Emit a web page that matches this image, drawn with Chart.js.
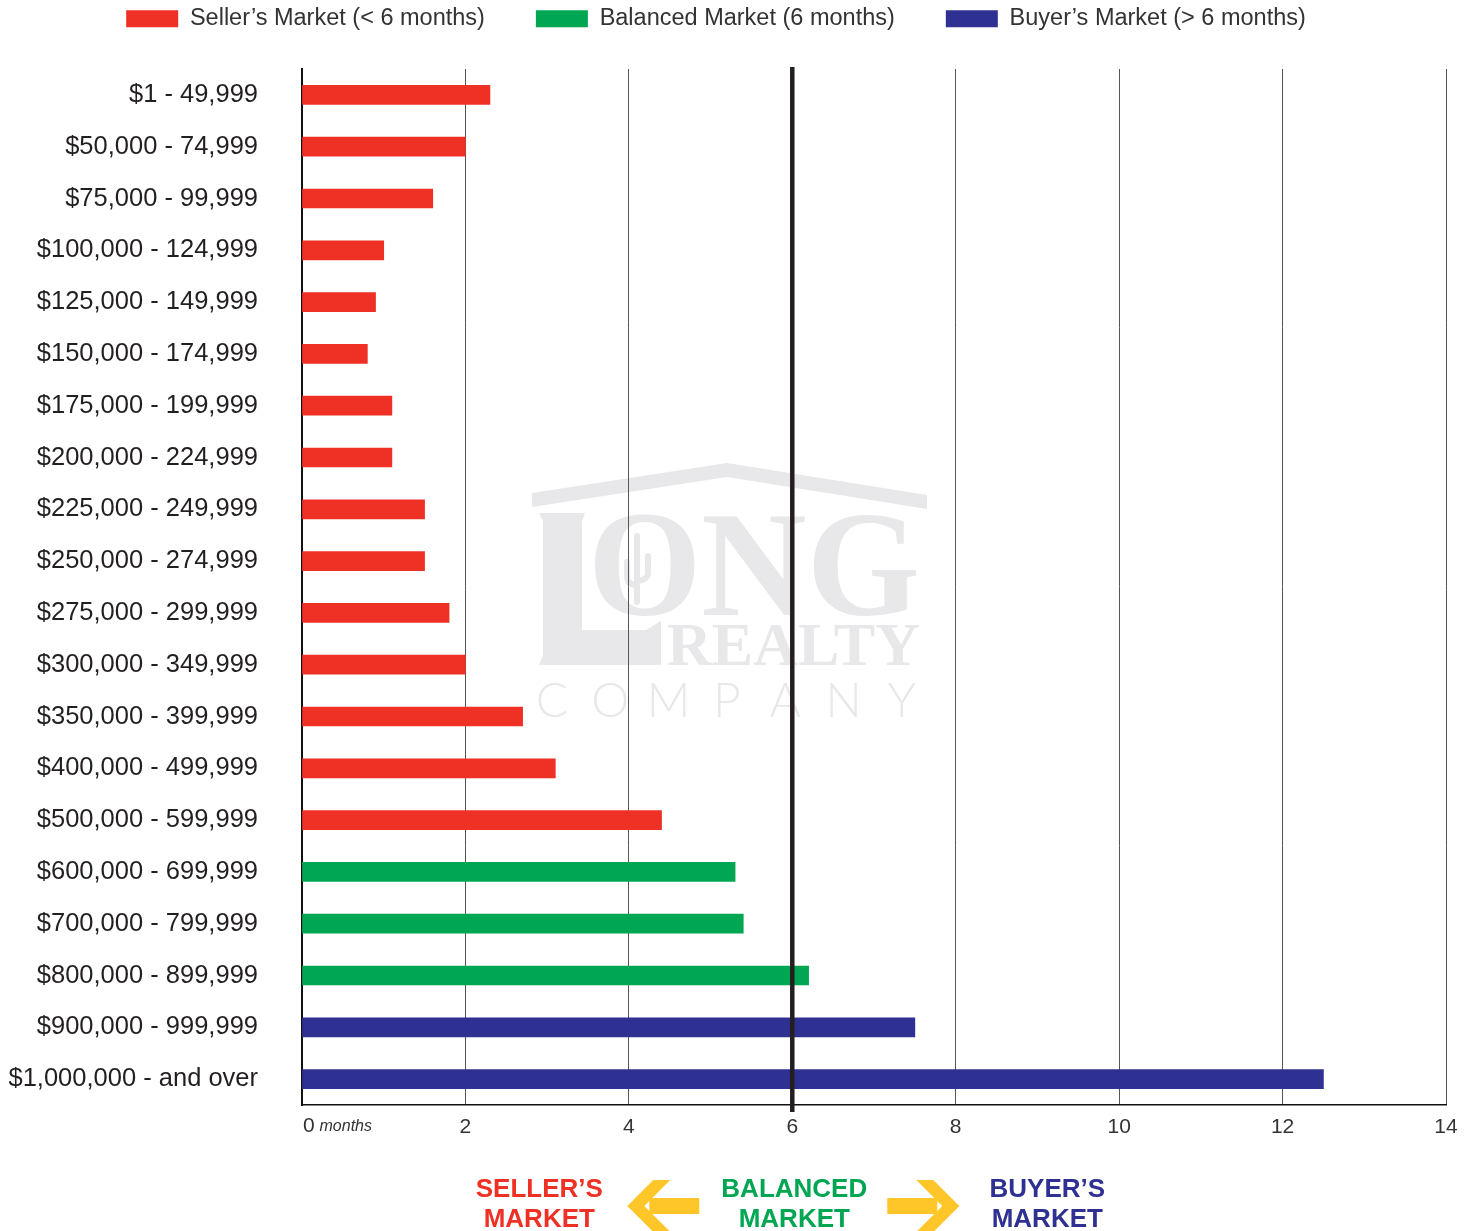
<!DOCTYPE html>
<html>
<head>
<meta charset="utf-8">
<script src="https://cdn.jsdelivr.net/npm/chart.js@4"></script>
<style>
html, body { margin: 0; padding: 0; background: #fff; }
</style>
</head>
<body>
<canvas id="grafica" width="1472" height="1231"></canvas>
<script>
// price ranges, top to bottom
const ranges = [
  '$1 - 49,999', '$50,000 - 74,999', '$75,000 - 99,999', '$100,000 - 124,999',
  '$125,000 - 149,999', '$150,000 - 174,999', '$175,000 - 199,999', '$200,000 - 224,999',
  '$225,000 - 249,999', '$250,000 - 274,999', '$275,000 - 299,999', '$300,000 - 349,999',
  '$350,000 - 399,999', '$400,000 - 499,999', '$500,000 - 599,999', '$600,000 - 699,999',
  '$700,000 - 799,999', '$800,000 - 899,999', '$900,000 - 999,999', '$1,000,000 - and over'
];
// months of inventory, split by market type
const sellers = [2.3, 2.0, 1.6, 1.0, 0.9, 0.8, 1.1, 1.1, 1.5, 1.5, 1.8, 2.0, 2.7, 3.1, 4.4, null, null, null, null, null];
const balanced = [null, null, null, null, null, null, null, null, null, null, null, null, null, null, null, 5.3, 5.4, 6.2, null, null];
const buyers = [null, null, null, null, null, null, null, null, null, null, null, null, null, null, null, null, null, null, 7.5, 12.5];
const xTicks = [0, 2, 4, 6, 8, 10, 12, 14];
const balancePoint = 6;

const RED = '#ee3124';
const GREEN = '#00a651';
const BLUE = '#2e3192';
const YELLOW = '#ffc629';
const LOGO = '#e8e8ea';

function drawLogo(c) {
  c.fillStyle = LOGO;
  // roof
  c.beginPath();
  c.moveTo(532, 493); c.lineTo(727, 463); c.lineTo(927, 495);
  c.lineTo(927, 509); c.lineTo(727, 477); c.lineTo(532, 507);
  c.closePath(); c.fill();
  // big L
  c.beginPath();
  c.moveTo(539, 513); c.lineTo(585, 513); c.lineTo(582, 521);
  c.lineTo(582, 630); c.lineTo(646, 630); c.lineTo(661, 621);
  c.lineTo(661, 665); c.lineTo(539, 665); c.lineTo(543, 655);
  c.lineTo(543, 521); c.closePath(); c.fill();
  // ONG
  c.textBaseline = 'alphabetic';
  c.textAlign = 'left';
  c.font = 'bold 150px "Liberation Serif", serif';
  let w = c.measureText('ONG').width;
  c.save(); c.translate(588, 615); c.scale(332 / w, 1); c.fillText('ONG', 0, 0); c.restore();
  // REALTY
  c.font = 'bold 62px "Liberation Serif", serif';
  w = c.measureText('REALTY').width;
  c.save(); c.translate(667, 665); c.scale(253 / w, 1); c.fillText('REALTY', 0, 0); c.restore();
  // COMPANY
  c.font = '300 48px Lato, "Open Sans", sans-serif';
  c.textAlign = 'center';
  'COMPANY'.split('').forEach((ch, i) => c.fillText(ch, 552 + i * 58.3, 717));
  // cactus
  c.strokeStyle = LOGO;
  c.lineCap = 'round';
  c.lineWidth = 6;
  c.beginPath();
  c.moveTo(637, 536); c.lineTo(637, 602);
  c.moveTo(627, 562); c.lineTo(627, 578); c.quadraticCurveTo(628, 585, 637, 585);
  c.moveTo(648, 556); c.lineTo(648, 574); c.quadraticCurveTo(647, 580, 637, 581);
  c.stroke();
}

const background = {
  id: 'background',
  beforeInit(chart) {
    const fit = chart.legend.fit;
    chart.legend.fit = function () { fit.call(this); this.height = 69; };
  },
  afterLayout(chart) {
    chart.legend.top = -44;
    chart.legend.left -= 7;
    chart.legend.right -= 7;
  },
  beforeDraw(chart) {
    const c = chart.ctx;
    c.save();
    c.fillStyle = '#fff';
    c.fillRect(0, 0, chart.width, chart.height);
    drawLogo(c);
    c.restore();
  }
};

const sixLine = {
  id: 'sixLine',
  afterDatasetsDraw(chart) {
    const c = chart.ctx;
    const x = chart.scales.x.getPixelForValue(balancePoint);
    c.save();
    c.strokeStyle = '#231f20';
    c.lineWidth = 4.5;
    c.beginPath();
    c.moveTo(x, chart.chartArea.top - 2);
    c.lineTo(x, chart.chartArea.bottom + 7);
    c.stroke();
    c.restore();
  }
};

function arrow(c, tipX, y, dir) {
  // dir -1 = points left, 1 = points right
  c.beginPath();
  c.moveTo(tipX, y);
  c.lineTo(tipX - dir * 26, y - 26);
  c.lineTo(tipX - dir * 43, y - 26);
  c.lineTo(tipX - dir * 17, y);
  c.lineTo(tipX - dir * 43, y + 26);
  c.lineTo(tipX - dir * 26, y + 26);
  c.closePath();
  c.fill();
  const x0 = tipX - dir * 22, x1 = tipX - dir * 72;
  c.fillRect(Math.min(x0, x1), y - 8, Math.abs(x1 - x0), 16);
}

const bottomNotes = {
  id: 'bottomNotes',
  afterDraw(chart) {
    const c = chart.ctx;
    const xs = chart.scales.x;
    const yTicks = chart.chartArea.bottom + 21;
    c.save();
    // "0 months"
    c.fillStyle = '#333';
    c.textBaseline = 'middle';
    c.textAlign = 'left';
    c.font = '21px "Liberation Sans", Arial, sans-serif';
    const x0 = xs.getPixelForValue(0) + 1;
    c.fillText('0', x0, yTicks);
    const w0 = c.measureText('0 ').width;
    c.font = 'italic 16px "Liberation Sans", Arial, sans-serif';
    c.fillText('months', x0 + w0 - 1, yTicks + 1);

    // market captions
    const mid = xs.getPixelForValue(balancePoint);
    c.textAlign = 'center';
    c.textBaseline = 'alphabetic';
    c.font = 'bold 26px "Liberation Sans", Arial, sans-serif';
    const notes = [
      [mid - 253, RED, "SELLER\u2019S"],
      [mid + 2, GREEN, 'BALANCED'],
      [mid + 255, BLUE, "BUYER\u2019S"]
    ];
    notes.forEach(n => {
      c.fillStyle = n[1];
      c.fillText(n[2], n[0], 1197);
      c.fillText('MARKET', n[0], 1227);
    });
    c.fillStyle = YELLOW;
    arrow(c, mid - 165, 1206, -1);
    arrow(c, mid + 167, 1206, 1);
    c.restore();
  }
};

const grafica = new Chart(document.getElementById('grafica'), {
  type: 'bar',
  data: {
    labels: ranges,
    datasets: [
      { label: 'Seller\u2019s Market (< 6 months)', data: sellers, backgroundColor: RED, borderWidth: 0 },
      { label: 'Balanced Market (6 months)', data: balanced, backgroundColor: GREEN, borderWidth: 0 },
      { label: 'Buyer\u2019s Market (> 6 months)', data: buyers, backgroundColor: BLUE, borderWidth: 0 }
    ]
  },
  options: {
    indexAxis: 'y',
    responsive: false,
    animation: false,
    devicePixelRatio: 1,
    barThickness: 19,
    layout: { padding: { left: 0, right: 26, top: 0, bottom: 0 } },
    scales: {
      x: {
        stacked: true,
        min: 0,
        max: 14,
        afterBuildTicks(scale) { scale.ticks = xTicks.map(v => ({ value: v })); },
        afterFit(scale) { scale.height = 126; },
        grid: { color: '#555', lineWidth: 1, drawTicks: false },
        border: { color: '#111', width: 1.5 },
        ticks: {
          padding: 10,
          color: '#333',
          font: { family: '"Liberation Sans", Arial, sans-serif', size: 21 },
          callback: v => (v === 0 ? '' : v)
        }
      },
      y: {
        stacked: true,
        afterFit(scale) { scale.width = 302; },
        grid: { display: false, drawTicks: false },
        border: { display: true, color: '#111', width: 2 },
        ticks: {
          padding: 44,
          color: '#231f20',
          font: { family: '"Liberation Sans", Arial, sans-serif', size: 25.5 }
        }
      }
    },
    plugins: {
      legend: {
        position: 'top',
        labels: {
          boxWidth: 52,
          boxHeight: 17,
          padding: 51,
          color: '#333',
          font: { family: '"Liberation Sans", Arial, sans-serif', size: 23.5 }
        }
      },
      tooltip: { enabled: false }
    }
  },
  plugins: [background, sixLine, bottomNotes]
});
</script>
</body>
</html>
